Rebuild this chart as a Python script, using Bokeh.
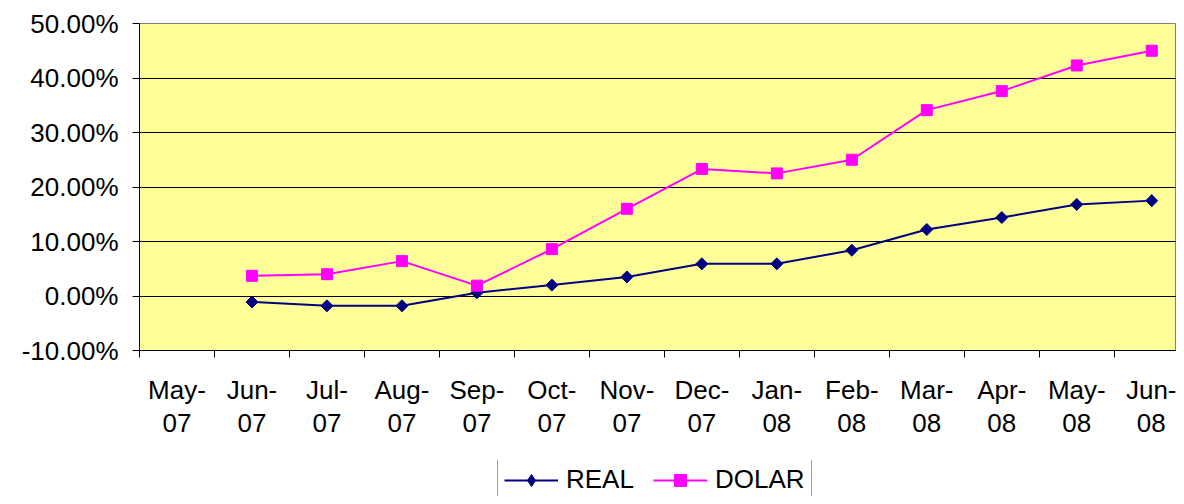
import math
from bokeh.plotting import figure
from bokeh.layouts import column
from bokeh.models import (Range1d, FixedTicker, NumeralTickFormatter, Legend,
                          LegendItem, ColumnDataSource)
from bokeh.embed import file_html
from bokeh.resources import INLINE

# ---- data ----
months = ["May-07", "Jun-07", "Jul-07", "Aug-07", "Sep-07", "Oct-07", "Nov-07",
          "Dec-07", "Jan-08", "Feb-08", "Mar-08", "Apr-08", "May-08", "Jun-08"]
real_pct = [None, -1.1, -1.8, -1.8, 0.6, 2.0, 3.5, 5.9, 5.9, 8.4, 12.2, 14.4, 16.8, 17.5]
dolar_pct = [None, 3.7, 4.0, 6.4, 1.9, 8.6, 16.0, 23.3, 22.5, 25.0, 34.1, 37.6, 42.3, 45.0]
y_ticks_pct = [-10, 0, 10, 20, 30, 40, 50]
series_names = ["REAL", "DOLAR"]

FONT = "Liberation Sans"
FS = "26px"
REAL_COLOR = "#000080"
DOLAR_COLOR = "#FF00FF"


def series_source(vals):
    xs, ys = [], []
    for i, v in enumerate(vals):
        if v is not None:
            xs.append(i + 0.5)
            ys.append(v / 100.0)
    return ColumnDataSource(dict(x=xs, y=ys))


def add_series(fig, src_real, src_dolar, real_marker="square", real_angle=math.pi / 4,
               real_size=8.5):
    lr = fig.line("x", "y", source=src_real, line_color=REAL_COLOR, line_width=2)
    mr = fig.scatter("x", "y", source=src_real, marker=real_marker, angle=real_angle,
                     size=real_size, fill_color=REAL_COLOR, line_color=REAL_COLOR)
    ld = fig.line("x", "y", source=src_dolar, line_color=DOLAR_COLOR, line_width=2)
    md = fig.scatter("x", "y", source=src_dolar, marker="square", size=11,
                     fill_color=DOLAR_COLOR, line_color=DOLAR_COLOR)
    return lr, mr, ld, md


p = figure(frame_width=1037, frame_height=327,
           x_range=Range1d(0, 13.83), y_range=Range1d(-0.10, 0.50),
           output_backend="svg", toolbar_location=None,
           min_border_left=139, min_border_top=23, min_border_right=0,
           min_border_bottom=110,
           background_fill_color="#FFFF99", border_fill_color="white",
           outline_line_color="#808080", outline_line_width=1)

# y axis
yt = [t / 100.0 for t in y_ticks_pct]
p.yaxis.ticker = FixedTicker(ticks=yt)
p.yaxis.formatter = NumeralTickFormatter(format="0.00%")
p.yaxis.axis_line_color = "black"
p.yaxis.major_tick_line_color = "black"
p.yaxis.major_tick_out = 7
p.yaxis.major_tick_in = 0
p.yaxis.minor_tick_line_color = None
p.yaxis.major_label_standoff = 14
p.yaxis.major_label_text_font = FONT
p.yaxis.major_label_text_font_size = FS
p.yaxis.major_label_text_color = "black"

# gridlines only strictly inside the plot area (outline stays grey on top)
p.ygrid.ticker = FixedTicker(ticks=yt[1:-1])
p.ygrid.grid_line_color = "black"
p.ygrid.grid_line_width = 1
p.xgrid.grid_line_color = None

# x axis (category labels centred, tick marks between categories)
centers = [i + 0.5 for i in range(len(months))]
p.xaxis.ticker = FixedTicker(ticks=centers, minor_ticks=list(range(len(months) + 1)))
p.xaxis.major_label_overrides = {c: m.replace("-", "-\n") for c, m in zip(centers, months)}
p.xaxis.major_tick_line_color = None
p.xaxis.major_tick_out = 7
p.xaxis.major_tick_in = 0
p.xaxis.minor_tick_line_color = "black"
p.xaxis.minor_tick_out = 7
p.xaxis.minor_tick_in = 0
p.xaxis.axis_line_color = "black"
p.xaxis.major_label_standoff = 17
p.xaxis.major_label_text_font = FONT
p.xaxis.major_label_text_font_size = FS
p.xaxis.major_label_text_line_height = 1.1
p.xaxis.major_label_text_color = "black"

# series
src_real = series_source(real_pct)
src_dolar = series_source(dolar_pct)
add_series(p, src_real, src_dolar)

# ---- legend strip below the chart (same series, ranges show no data) ----
p2 = figure(width=1176, height=36, output_backend="svg", toolbar_location=None,
            x_range=Range1d(100, 101), y_range=Range1d(100, 101),
            x_axis_location=None, y_axis_location=None,
            min_border=0, min_border_left=0, min_border_right=0,
            min_border_top=0, min_border_bottom=0,
            outline_line_color=None, background_fill_color="white",
            border_fill_color="white")
p2.grid.visible = False
lr, mr, ld, md = add_series(p2, src_real, src_dolar, real_marker="diamond",
                            real_angle=0, real_size=12)

legend = Legend(items=[LegendItem(label=series_names[0], renderers=[lr, mr]),
                       LegendItem(label=series_names[1], renderers=[ld, md])],
                orientation="horizontal", location=(358, -6),
                glyph_width=54, glyph_height=30, label_height=30,
                label_standoff=8, spacing=19, padding=6, margin=0,
                label_text_font=FONT, label_text_font_size=FS,
                label_text_color="black",
                border_line_color="#404040", border_line_width=1,
                background_fill_color="white", background_fill_alpha=1.0)
p2.add_layout(legend)

layout = column(p, p2, spacing=0)
open("out.html", "w").write(file_html(layout, INLINE))
